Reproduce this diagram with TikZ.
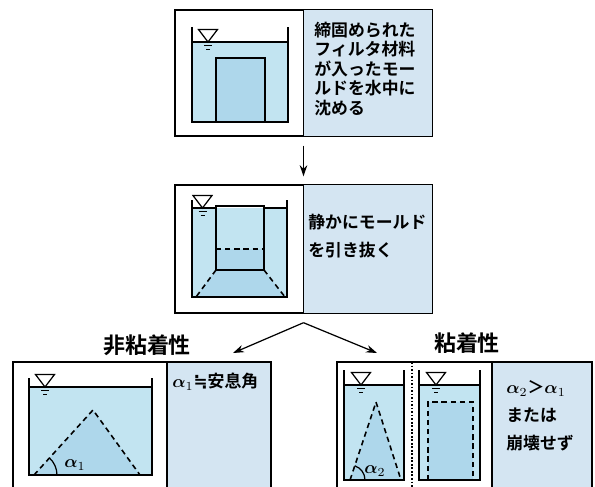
\documentclass[tikz,border=0pt]{standalone}
\usepackage{amsmath}
\usepackage{fontspec}
\newfontfamily\jp[BoldFont={Noto Sans CJK JP Bold}]{Noto Sans CJK JP}
\newfontfamily\sym{DejaVu Sans}
\usetikzlibrary{arrows.meta}

\definecolor{waterblue}{RGB}{194,228,241}
\definecolor{soilblue}{RGB}{174,215,235}
\definecolor{noteblue}{RGB}{212,229,242}

\tikzset{
  panel/.style={draw, line width=0.8pt, inner sep=0pt},
  tank/.style={line width=0.8pt},
  note/.style={font=\jp\bfseries\fontsize{9.6}{11.1}\selectfont, align=left, inner sep=0pt},
  head/.style={font=\jp\bfseries\fontsize{12.5}{14}\selectfont, inner sep=0pt},
  slope/.style={dashed, line width=0.9pt, dash pattern=on 3pt off 2.2pt},
}

% water level sign, apex on the surface
\newcommand{\levelmark}[1]{%
  \draw[line width=0.7pt] #1 -- ++(-0.19,0.25) -- ++(0.38,0) -- cycle;
  \draw[line width=0.7pt] #1 ++(-0.08,-0.07) -- ++(0.16,0);
  \draw[line width=0.7pt] #1 ++(-0.04,-0.15) -- ++(0.08,0);
}
\newcommand{\al}[1]{$\boldsymbol{\alpha}_{#1}$}

\begin{document}
\begin{tikzpicture}[>={Stealth[length=2.2mm,width=1.5mm]}]
\clip (0,0) rectangle (11.9,9.72);

%the mold sunk in water
\node[panel, minimum width=5.14cm, minimum height=2.52cm] (sink) at (6.07,8.26) {};
\fill[noteblue] (sink.north) rectangle (sink.south east);
\draw[line width=0.8pt] (sink.north west) rectangle (sink.south east);
\draw[line width=0.8pt] (sink.north) -- (sink.south);
\fill[waterblue] (3.84,7.28) rectangle (5.76,8.88);
\fill[soilblue] (4.32,7.28) rectangle (5.3,8.56);
\draw[tank] (3.84,8.88) -- (5.76,8.88);
\draw[tank] (3.84,9.18) -- (3.84,7.28) -- (5.76,7.28) -- (5.76,9.18);
\draw[tank] (4.32,7.28) -- (4.32,8.56) -- (5.3,8.56) -- (5.3,7.28);
\levelmark{(4.16,8.88)}
\node[note, anchor=west] (sinktext) at (6.28,8.34)
  {締固められた\\フィルタ材料\\が入ったモー\\ルドを水中に\\沈める};

%pulling the mold out
\node[panel, minimum width=5.14cm, minimum height=2.56cm] (pull) at (6.07,4.74) {};
\fill[noteblue] (pull.north) rectangle (pull.south east);
\draw[line width=0.8pt] (pull.north west) rectangle (pull.south east);
\draw[line width=0.8pt] (pull.north) -- (pull.south);
\fill[waterblue] (3.84,3.78) rectangle (5.74,5.56);
\fill[soilblue] (4.32,4.74) -- (5.28,4.74) -- (5.28,4.32) -- (5.70,3.78)
  -- (3.92,3.78) -- (4.32,4.32) -- cycle;
\draw[tank] (3.84,5.56) -- (4.32,5.56);
\draw[tank] (5.28,5.56) -- (5.74,5.56);
\draw[tank] (3.84,5.72) -- (3.84,3.78) -- (5.74,3.78) -- (5.74,5.72);
\draw[tank] (4.32,4.32) rectangle (5.28,5.6);
\draw[slope] (4.32,4.74) -- (5.28,4.74);
\draw[slope] (4.32,4.32) -- (3.92,3.78);
\draw[slope] (5.28,4.32) -- (5.70,3.78);
\levelmark{(4.05,5.56)}
\node[note, anchor=west, font=\jp\bfseries\fontsize{9.6}{15.9}\selectfont] (pulltext) at (6.16,5.0)
  {静かにモールド\\を引き抜く};

\draw[->, line width=0.7pt, shorten <=0.18cm, shorten >=0.16cm] (sink) -- (pull);

%the two cases
\coordinate (fork) at ([yshift=-0.18cm]pull.south);
\coordinate (toloose) at (4.66,2.66);
\coordinate (tosticky) at (7.54,2.66);
\draw[->, line width=0.7pt] (fork) -- (toloose);
\draw[->, line width=0.7pt] (fork) -- (tosticky);
\node[head] (loosehead) at (2.94,2.82) {非粘着性};
\node[head] (stickyhead) at (9.34,2.86) {粘着性};

%non cohesive: cone at the angle of repose
\fill[noteblue] (3.34,2.48) rectangle (5.42,-0.52);
\node[panel, minimum width=5.16cm, minimum height=3.0cm] (loose) at (2.84,0.98) {};
\draw[line width=0.8pt] (3.34,2.48) -- (3.34,-0.52);
\fill[waterblue] (0.58,0.22) rectangle (3.04,1.98);
\fill[soilblue] (0.68,0.22) -- (1.86,1.52) -- (2.8,0.22) -- cycle;
\draw[tank] (0.58,1.98) -- (3.04,1.98);
\draw[tank] (0.58,2.16) -- (0.58,0.22) -- (3.04,0.22) -- (3.04,2.16);
\draw[slope] (0.68,0.22) -- (1.86,1.52) -- (2.8,0.22);
\draw[line width=0.7pt] (0.68,0.22) ++(0.46,0) arc (0:48:0.46);
\node[inner sep=0pt] (a1) at (1.5,0.42) {\al{1}};
\levelmark{(0.9,1.98)}
\node[note, anchor=west] (loosetext) at (3.44,2.08) {\al{1}{\sym ≒}安息角};

%cohesive: steep cone or no collapse
\fill[noteblue] (9.84,2.48) rectangle (11.84,-0.52);
\node[panel, minimum width=5.10cm, minimum height=3.0cm] (sticky) at (9.29,0.98) {};
\draw[line width=0.8pt] (9.84,2.48) -- (9.84,-0.52);
\draw[densely dotted, line width=1pt] (8.24,2.48) -- (8.24,-0.52);

\fill[waterblue] (6.88,0.12) rectangle (8.08,2.02);
\fill[soilblue] (7.0,0.12) -- (7.52,1.68) -- (8.02,0.12) -- cycle;
\draw[tank] (6.88,2.02) -- (8.08,2.02);
\draw[tank] (6.88,2.32) -- (6.88,0.12) -- (8.08,0.12) -- (8.08,2.32);
\draw[slope] (7.0,0.12) -- (7.52,1.68) -- (8.02,0.12);
\draw[line width=0.7pt] (7.0,0.12) ++(0.3,0) arc (0:72:0.3);
\node[inner sep=0pt] (a2) at (7.5,0.3) {\al{2}};
\levelmark{(7.22,2.02)}

\fill[waterblue] (8.38,0.12) rectangle (9.6,2.02);
\fill[soilblue] (8.56,0.12) rectangle (9.46,1.68);
\draw[tank] (8.38,2.02) -- (9.6,2.02);
\draw[tank] (8.38,2.32) -- (8.38,0.12) -- (9.6,0.12) -- (9.6,2.32);
\draw[slope] (8.56,0.12) -- (8.56,1.68) -- (9.46,1.68) -- (9.46,0.12);
\levelmark{(8.72,2.02)}

\node[note, anchor=west, font=\jp\bfseries\fontsize{9.6}{15.9}\selectfont] (stickytext) at (10.12,1.40)
  {\al{2}＞\al{1}\\または\\崩壊せず};
\end{tikzpicture}
\end{document}
